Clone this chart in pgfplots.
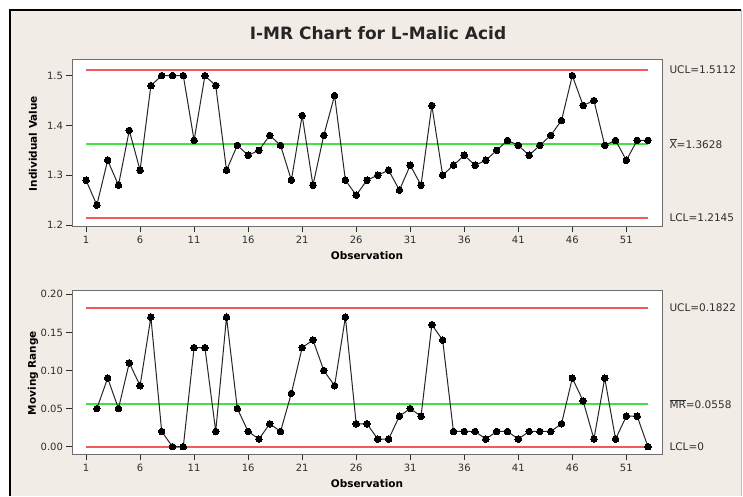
\documentclass[border=0pt]{standalone}
\usepackage{fontspec}
\setmainfont{DejaVu Sans}
\usepackage{pgfplots}
\usepackage{pgfplotstable}
\pgfplotsset{compat=1.18}
\definecolor{bgc}{HTML}{F1EDE6}
\definecolor{ucl}{HTML}{F25A5A}
\definecolor{ctr}{HTML}{44E044}
\definecolor{axc}{HTML}{6E6E6E}
\definecolor{txc}{HTML}{2E2E2E}

\pgfplotstableread{
obs val
1 1.29
2 1.24
3 1.33
4 1.28
5 1.39
6 1.31
7 1.48
8 1.50
9 1.50
10 1.50
11 1.37
12 1.50
13 1.48
14 1.31
15 1.36
16 1.34
17 1.35
18 1.38
19 1.36
20 1.29
21 1.42
22 1.28
23 1.38
24 1.46
25 1.29
26 1.26
27 1.29
28 1.30
29 1.31
30 1.27
31 1.32
32 1.28
33 1.44
34 1.30
35 1.32
36 1.34
37 1.32
38 1.33
39 1.35
40 1.37
41 1.36
42 1.34
43 1.36
44 1.38
45 1.41
46 1.50
47 1.44
48 1.45
49 1.36
50 1.37
51 1.33
52 1.37
53 1.37
}\indiv

\pgfplotstableread{
obs mr
2 0.05
3 0.09
4 0.05
5 0.11
6 0.08
7 0.17
8 0.02
9 0.00
10 0.00
11 0.13
12 0.13
13 0.02
14 0.17
15 0.05
16 0.02
17 0.01
18 0.03
19 0.02
20 0.07
21 0.13
22 0.14
23 0.10
24 0.08
25 0.17
26 0.03
27 0.03
28 0.01
29 0.01
30 0.04
31 0.05
32 0.04
33 0.16
34 0.14
35 0.02
36 0.02
37 0.02
38 0.01
39 0.02
40 0.02
41 0.01
42 0.02
43 0.02
44 0.02
45 0.03
46 0.09
47 0.06
48 0.01
49 0.09
50 0.01
51 0.04
52 0.04
53 0.00
}\mrtab

\tikzset{
  lab/.style={anchor=west, font=\fontsize{10.5}{12}\selectfont, text=txc, xshift=4pt},
}
\pgfplotsset{
  imr/.style={
    scale only axis,
    width=590pt,
    xmin=-0.3, xmax=54.3,
    xtick={1,6,...,51},
    axis background/.style={fill=white},
    axis line style={axc, line width=1pt},
    tick style={txc, line width=1pt},
    tick align=outside,
    major tick length=5.5pt,
    xtick pos=bottom, ytick pos=left,
    ticklabel style={font=\fontsize{10}{12}\selectfont, text=txc},
    xlabel={Observation},
    every axis x label/.style={at={(axis description cs:0.5,0)}, anchor=center, yshift=-29pt,
      font=\bfseries\fontsize{10.5}{12}\selectfont, text=black},
    every axis y label/.style={at={(axis description cs:-0.066,0.5)}, rotate=90, anchor=center,
      font=\bfseries\fontsize{10.5}{12}\selectfont, text=black},
    clip=false,
    /pgf/number format/assume math mode=true,
  },
  lim/.style={ucl, line width=1.7pt},
  cen/.style={ctr, line width=1.6pt},
  dat/.style={black!85, line width=1pt, mark=*, mark size=3.3pt, mark options={fill=black, draw=black, line width=0pt}},
}

\begin{document}
\begin{tikzpicture}[x=1pt,y=1pt]
\fill[white] (0,0) rectangle (743,496);
\fill[bgc] (10,0) rectangle (741,486);
\draw[black, line width=1.6pt] (10,0) -- (10,486) -- (741,486);
\draw[gray!50, line width=0.8pt] (741,486) -- (741,0);
\node[font=\bfseries\fontsize{17}{19}\selectfont, text=black!85] at (378,463) {I-MR Chart for L-Malic Acid};

\begin{axis}[imr, at={(72pt,269pt)}, anchor=south west, height=167pt,
  ymin=1.196, ymax=1.5314, ytick={1.2,1.3,1.4,1.5},
  yticklabel style={/pgf/number format/.cd, fixed, precision=1},
  ylabel={Individual Value}]
  \addplot[lim] coordinates {(1,1.5112) (53,1.5112)};
  \addplot[lim] coordinates {(1,1.2145) (53,1.2145)};
  \addplot[cen] coordinates {(1,1.3628) (53,1.3628)};
  \addplot[dat] table[x=obs, y=val] {\indiv};
  \node[lab] at (axis cs:54.3,1.5112) {UCL=1.5112};
  \node[lab] at (axis cs:54.3,1.3628) {$\overline{\mbox{X}}$=1.3628};
  \node[lab] at (axis cs:54.3,1.2145) {LCL=1.2145};
\end{axis}

\begin{axis}[imr, at={(72pt,41pt)}, anchor=south west, height=164pt,
  ymin=-0.0109, ymax=0.2043, ytick={0,0.05,0.10,0.15,0.20},
  yticklabel style={/pgf/number format/.cd, fixed, fixed zerofill, precision=2},
  ylabel={Moving Range}]
  \addplot[lim] coordinates {(1,0.1822) (53,0.1822)};
  \addplot[lim] coordinates {(1,0) (53,0)};
  \addplot[cen] coordinates {(1,0.0558) (53,0.0558)};
  \addplot[dat] table[x=obs, y=mr] {\mrtab};
  \node[lab] at (axis cs:54.3,0.1822) {UCL=0.1822};
  \node[lab] at (axis cs:54.3,0.0558) {$\overline{\mbox{MR}}$=0.0558};
  \node[lab] at (axis cs:54.3,0) {LCL=0};
\end{axis}
\end{tikzpicture}
\end{document}
